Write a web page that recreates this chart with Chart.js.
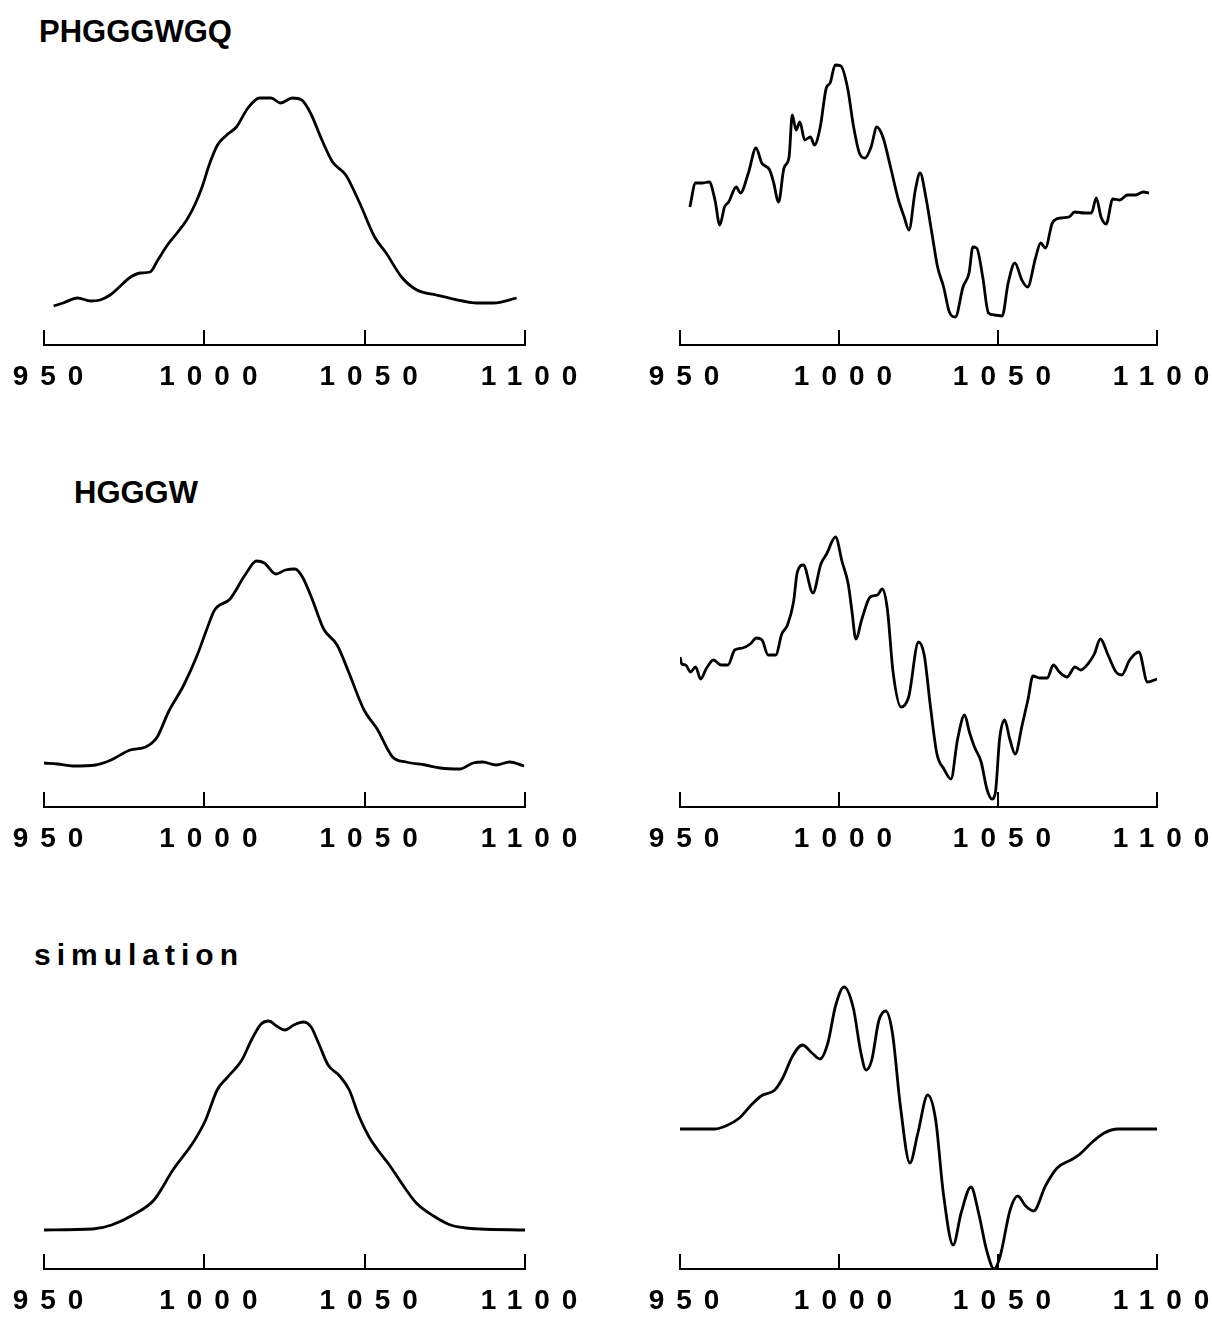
<!DOCTYPE html>
<html>
<head>
<meta charset="utf-8">
<title>PHGGGWGQ / HGGGW spectra</title>
<script src="https://cdn.jsdelivr.net/npm/chart.js@4.4.1/dist/chart.umd.min.js"></script>
<style>
    html, body { margin: 0; padding: 0; background: #fff; }
    body { width: 1212px; height: 1318px; position: relative; overflow: hidden; }
    canvas { position: absolute; }
    .label {
        position: absolute;
        font: bold 31px/31px "Liberation Sans", Arial, Helvetica, sans-serif;
        color: #000;
        white-space: nowrap;
    }
</style>
</head>
<body>

<div class="label" style="left:39px; top:16px;">PHGGGWGQ</div>
<div class="label" style="left:74px; top:477px;">HGGGW</div>
<div class="label" style="left:34px; top:940px; font-size:30px; line-height:30px; letter-spacing:6px;">simulation</div>

<canvas id="phgAbs" width="615" height="424" style="left:-20px; top:0;"></canvas>
<canvas id="phgDeriv" width="611" height="424" style="left:616px; top:0;"></canvas>
<canvas id="hgAbs" width="615" height="456" style="left:-20px; top:430px;"></canvas>
<canvas id="hgDeriv" width="611" height="456" style="left:616px; top:430px;"></canvas>
<canvas id="simAbs" width="615" height="458" style="left:-20px; top:890px;"></canvas>
<canvas id="simDeriv" width="611" height="458" style="left:616px; top:890px;"></canvas>

<script>
// wavenumber axis, cm-1
var xTicks = [950, 1000, 1050, 1100];

// [wavenumber, intensity (a.u.)]
var phgggwgqAbs = [
    [953.0, 39], [956.0, 42], [960.4, 47], [964.6, 44], [967.5, 45], [970.6, 50],
    [973.5, 58], [976.6, 67], [980.0, 72], [983.1, 73], [985.5, 85], [988.5, 100],
    [991.5, 112], [994.5, 125], [997.0, 140], [999.3, 158], [1001.5, 180], [1004.1, 200],
    [1007.0, 210], [1010.0, 218], [1013.6, 237], [1017.2, 247], [1020.8, 247], [1023.8, 242],
    [1027.4, 247], [1030.4, 245], [1033.4, 230], [1036.4, 207], [1040.0, 183], [1044.1, 170],
    [1048.3, 143], [1053.1, 108], [1056.7, 92], [1061.5, 68], [1066.3, 55], [1072.3, 50],
    [1080.6, 44], [1084.8, 42], [1090.2, 42], [1097.4, 47]
];

var phgggwgqDeriv = [
    [953.1, 138], [954.9, 162], [957.0, 162], [959.2, 163], [961.0, 145], [962.5, 120],
    [964.0, 138], [965.3, 143], [967.7, 158], [969.0, 152], [971.5, 172], [973.9, 197],
    [975.7, 182], [978.2, 175], [979.4, 163], [981.0, 143], [982.7, 177], [984.3, 188],
    [985.3, 230], [986.5, 215], [987.7, 223], [989.2, 205], [991.0, 208], [992.3, 200],
    [994.1, 218], [996.0, 257], [997.2, 262], [998.8, 280], [1000.6, 279], [1002.7, 257],
    [1004.6, 218], [1006.4, 192], [1008.2, 187], [1010.1, 198], [1011.9, 218], [1013.8, 208],
    [1016.2, 178], [1018.7, 145], [1020.5, 128], [1022.0, 115], [1024.0, 155], [1025.5, 172],
    [1027.3, 148], [1029.2, 112], [1031.0, 78], [1032.9, 58], [1034.7, 33], [1036.6, 28],
    [1039.0, 58], [1040.9, 72], [1042.1, 98], [1043.3, 97], [1045.2, 68], [1047.0, 32],
    [1048.9, 30], [1051.3, 29], [1053.2, 62], [1055.3, 82], [1057.5, 65], [1059.3, 58],
    [1061.8, 87], [1063.4, 102], [1064.9, 97], [1067.1, 122], [1069.8, 127], [1072.3, 128],
    [1074.1, 133], [1077.2, 132], [1079.4, 132], [1080.9, 147], [1082.4, 128], [1084.0, 121],
    [1086.1, 146], [1088.3, 145], [1090.7, 150], [1093.2, 150], [1095.7, 153], [1097.5, 152]
];

var hgggwAbs = [
    [950.0, 44], [954.2, 43], [959.0, 41], [966.1, 42], [970.9, 47], [976.9, 57],
    [981.7, 60], [985.3, 70], [988.8, 95], [993.6, 122], [997.8, 152], [1000.8, 178],
    [1003.2, 197], [1008.0, 208], [1012.7, 232], [1016.3, 246], [1018.7, 244], [1022.3, 233],
    [1025.3, 237], [1028.3, 238], [1030.6, 230], [1033.6, 208], [1037.2, 178], [1041.4, 162],
    [1045.0, 135], [1049.8, 97], [1053.9, 78], [1058.7, 50], [1062.9, 45], [1068.9, 42],
    [1073.6, 39], [1079.6, 38], [1083.8, 44], [1086.8, 45], [1091.0, 42], [1095.2, 45],
    [1099.7, 41]
];

var hgggwDeriv = [
    [950.0, 150], [950.6, 143], [951.8, 142], [953.3, 135], [954.9, 140], [956.5, 128],
    [958.2, 138], [960.5, 147], [962.9, 142], [965.1, 142], [967.2, 157], [969.7, 159],
    [972.1, 163], [974.0, 169], [975.8, 167], [977.7, 152], [980.1, 152], [982.0, 173],
    [983.8, 182], [985.7, 205], [986.9, 235], [988.8, 242], [991.8, 214], [994.3, 243],
    [996.1, 253], [998.9, 270], [1001.0, 245], [1002.9, 223], [1004.1, 195], [1005.3, 168],
    [1007.2, 188], [1009.8, 210], [1012.1, 212], [1013.6, 218], [1015.2, 198], [1017.0, 135],
    [1019.5, 100], [1021.9, 110], [1025.0, 165], [1026.8, 152], [1028.7, 102], [1030.8, 53],
    [1033.0, 38], [1035.2, 28], [1037.3, 68], [1039.5, 92], [1041.0, 75], [1042.6, 60],
    [1044.7, 45], [1046.5, 18], [1048.1, 8], [1049.2, 15], [1050.5, 68], [1052.1, 87],
    [1053.7, 68], [1055.4, 53], [1057.6, 82], [1059.4, 107], [1061.0, 131], [1063.1, 129],
    [1065.5, 129], [1067.4, 142], [1069.3, 135], [1071.7, 130], [1074.2, 140], [1076.0, 137],
    [1078.5, 144], [1080.3, 153], [1082.2, 168], [1084.6, 152], [1087.1, 135], [1088.9, 132],
    [1091.4, 147], [1094.3, 155], [1097.0, 125], [1100.0, 128]
];

var simulationAbs = [
    [950.0, 39], [965.2, 40], [971.1, 44], [977.7, 54], [984.3, 69], [990.2, 99],
    [996.8, 128], [1000.4, 149], [1004.0, 179], [1007.0, 191], [1011.7, 209], [1014.7, 229],
    [1017.7, 245], [1020.1, 248], [1022.5, 243], [1025.1, 239], [1027.9, 244], [1030.9, 247],
    [1033.3, 242], [1035.6, 226], [1038.6, 204], [1042.2, 193], [1045.2, 179], [1048.2, 153],
    [1051.2, 133], [1054.1, 119], [1057.7, 104], [1061.9, 84], [1066.1, 66], [1071.5, 53],
    [1076.8, 44], [1081.6, 41], [1085.8, 40], [1100.0, 39]
];

var simulationDeriv = [
    [950.0, 140], [960.7, 140], [964.4, 143], [968.7, 151], [972.4, 164], [975.5, 173],
    [979.8, 179], [982.3, 191], [985.4, 213], [988.5, 224], [991.5, 216], [994.0, 210],
    [996.5, 226], [998.9, 263], [1001.6, 282], [1004.5, 261], [1006.9, 216], [1008.5, 199],
    [1010.3, 209], [1012.5, 248], [1014.7, 258], [1016.8, 236], [1019.3, 163], [1022.3, 106],
    [1024.8, 136], [1027.9, 174], [1030.4, 149], [1032.8, 76], [1035.9, 24], [1038.4, 56],
    [1041.5, 82], [1043.9, 56], [1046.4, 19], [1048.8, 0], [1050.7, 13], [1053.8, 59],
    [1056.2, 73], [1058.7, 63], [1061.2, 58], [1064.9, 83], [1068.6, 101], [1072.9, 109],
    [1075.4, 114], [1079.7, 127], [1083.4, 136], [1087.7, 140], [1100.0, 140]
];

// canvas id, trace, chart-area padding inside each canvas
// (left/right padding must cover half the end label plus ticks.padding)
var panels = [
    { id: 'phgAbs',   series: phgggwgqAbs,     top: 45 },
    { id: 'phgDeriv', series: phgggwgqDeriv,   top: 45 },
    { id: 'hgAbs',    series: hgggwAbs,        top: 77 },
    { id: 'hgDeriv',  series: hgggwDeriv,      top: 77 },
    { id: 'simAbs',   series: simulationAbs,   top: 79 },
    { id: 'simDeriv', series: simulationDeriv, top: 79 }
];

// the axis numbers are printed with wide letter spacing
var spacedTicks = {
    id: 'spacedTicks',
    beforeDraw: function (chart) {
        chart.ctx.letterSpacing = '12px';
    },
    afterDraw: function (chart) {
        chart.ctx.letterSpacing = '0px';
    }
};

panels.forEach(function (p) {
    var ctx = document.getElementById(p.id).getContext('2d');

    new Chart(ctx, {
        type: 'line',
        plugins: [spacedTicks],
        data: {
            datasets: [
                {
                    data: p.series.map(function (d) { return { x: d[0], y: d[1] }; }),
                    borderColor: '#000',
                    borderWidth: 2.8,
                    pointRadius: 0,
                    fill: false,
                    cubicInterpolationMode: 'monotone'
                }
            ]
        },
        options: {
            responsive: false,
            animation: false,
            events: [],
            layout: {
                padding: { top: p.top, left: 64, right: 70, bottom: 0 }
            },
            plugins: {
                legend: { display: false },
                tooltip: { enabled: false }
            },
            scales: {
                x: {
                    type: 'linear',
                    min: 950,
                    max: 1100,
                    afterBuildTicks: function (scale) {
                        scale.ticks = xTicks.map(function (v) { return { value: v }; });
                    },
                    border: {
                        display: true,
                        color: '#000',
                        width: 2
                    },
                    grid: {
                        drawOnChartArea: false,
                        color: '#000',
                        lineWidth: 2,
                        tickLength: -15   // ticks point up into the plot
                    },
                    ticks: {
                        autoSkip: false,
                        maxRotation: 0,
                        padding: 33,
                        labelOffset: 10,
                        color: '#000',
                        font: {
                            family: '"Liberation Sans", Arial, Helvetica, sans-serif',
                            size: 28,
                            weight: 'bold',
                            lineHeight: 1
                        },
                        callback: function (value) {
                            return String(value);
                        }
                    }
                },
                y: {
                    display: false,
                    min: 0,
                    max: 300
                }
            }
        }
    });
});
</script>
</body>
</html>
